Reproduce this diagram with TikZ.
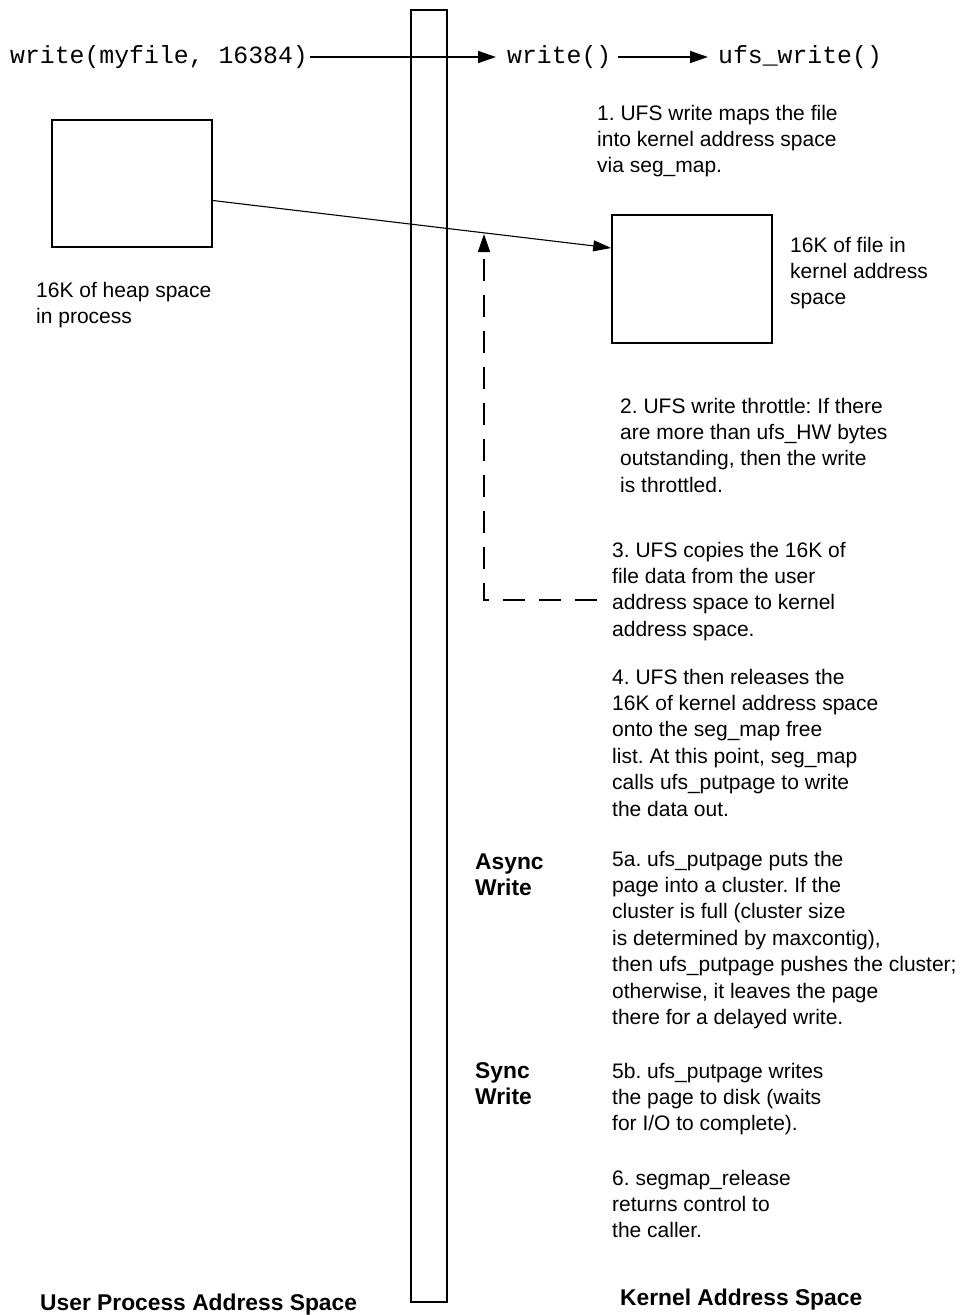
\documentclass[tikz,border=0pt]{standalone}
\usepackage{fontspec}
\setmainfont{Liberation Sans}
\setmonofont{Liberation Mono}
\usetikzlibrary{arrows.meta}
\frenchspacing
\newcommand{\txtlines}[1]{\begin{tabular}[t]{@{}l@{}}#1\end{tabular}}
\begin{document}
\frenchspacing
\begin{tikzpicture}[x=1pt,y=-1pt,
  txt/.style={font=\fontsize{21}{26.4}\selectfont, inner sep=0pt, anchor=base west},
  lbl/.style={font=\fontsize{22.8}{26.4}\selectfont\bfseries, inner sep=0pt, anchor=base west},
  code/.style={font=\fontsize{24.8}{28}\selectfont\ttfamily, inner sep=0pt, anchor=west},
  boxx/.style={draw, line width=1.6pt, inner sep=0pt},
  arr/.style={line width=1.6pt, -{Triangle[length=18pt,width=12pt]}},
  thinarr/.style={line width=1.1pt, -{Triangle[length=18pt,width=11pt]}},
  dasharr/.style={line width=1.6pt, dash pattern=on 22pt off 14pt, -{Triangle[length=18pt,width=12pt]}}]
\useasboundingbox (0,0) rectangle (959,1315);

% vertical bar
\node[boxx, minimum width=36pt, minimum height=1292pt] (bar) at (429,656) {};

% top call chain
\node[code] (call) at (10,57) {write(myfile, 16384)};
\node[code] (wr) at (507,57) {write()};
\node[code] (ufsw) at (718,57) {ufs\_write()};
\draw[arr, shorten <=2pt, shorten >=11pt] (call.east) -- (wr.west);
\draw[arr, shorten <=6pt, shorten >=10pt] (wr.east) -- (ufsw.west);

% boxes
\node[boxx, minimum width=160pt, minimum height=127pt] (heapbox) at (132,183.5) {};
\node[boxx, minimum width=160pt, minimum height=128pt] (filebox) at (692,279) {};
\draw[thinarr] ([yshift=-17pt]heapbox.east) -- ([yshift=31pt]filebox.west);

% dashed arrow
\coordinate (dstart) at (597,600);
\coordinate (dtip) at (484,234);
\draw[dasharr] (dstart) -| (dtip);

% texts
\node[txt] (heaptxt) at (36,297) {\txtlines{16K of heap space\\in process}};
\node[txt] (filetxt) at (790,252) {\txtlines{16K of file in\\kernel address\\space}};
\node[txt] (s1) at (597,120) {\txtlines{1. UFS write maps the file\\into kernel address space\\via seg\_map.}};
\node[txt] (s2) at (620,413) {\txtlines{2. UFS write throttle: If there\\are more than ufs\_HW bytes\\outstanding, then the write\\is throttled.}};
\node[txt] (s3) at (612,557) {\txtlines{3. UFS copies the 16K of\\file data from the user\\address space to kernel\\address space.}};
\node[txt] (s4) at (612,684) {\txtlines{4. UFS then releases the\\16K of kernel address space\\onto the seg\_map free\\list. At this point, seg\_map\\calls ufs\_putpage to write\\the data out.}};
\node[lbl] (async) at (475,869) {\txtlines{Async\\Write}};
\node[txt] (s5a) at (612,866) {\txtlines{5a. ufs\_putpage puts the\\page into a cluster. If the\\cluster is full (cluster size\\is determined by maxcontig),\\then ufs\_putpage pushes the cluster;\\otherwise, it leaves the page\\there for a delayed write.}};
\node[lbl] (sync) at (475,1078) {\txtlines{Sync\\Write}};
\node[txt] (s5b) at (612,1078) {\txtlines{5b. ufs\_putpage writes\\the page to disk (waits\\for I/O to complete).}};
\node[txt] (s6) at (612,1185) {\txtlines{6. segmap\_release\\returns control to\\the caller.}};
\node[lbl] (userlbl) at (40,1310) {User Process Address Space};
\node[lbl] (kernlbl) at (620,1305) {Kernel Address Space};
\end{tikzpicture}
\end{document}
